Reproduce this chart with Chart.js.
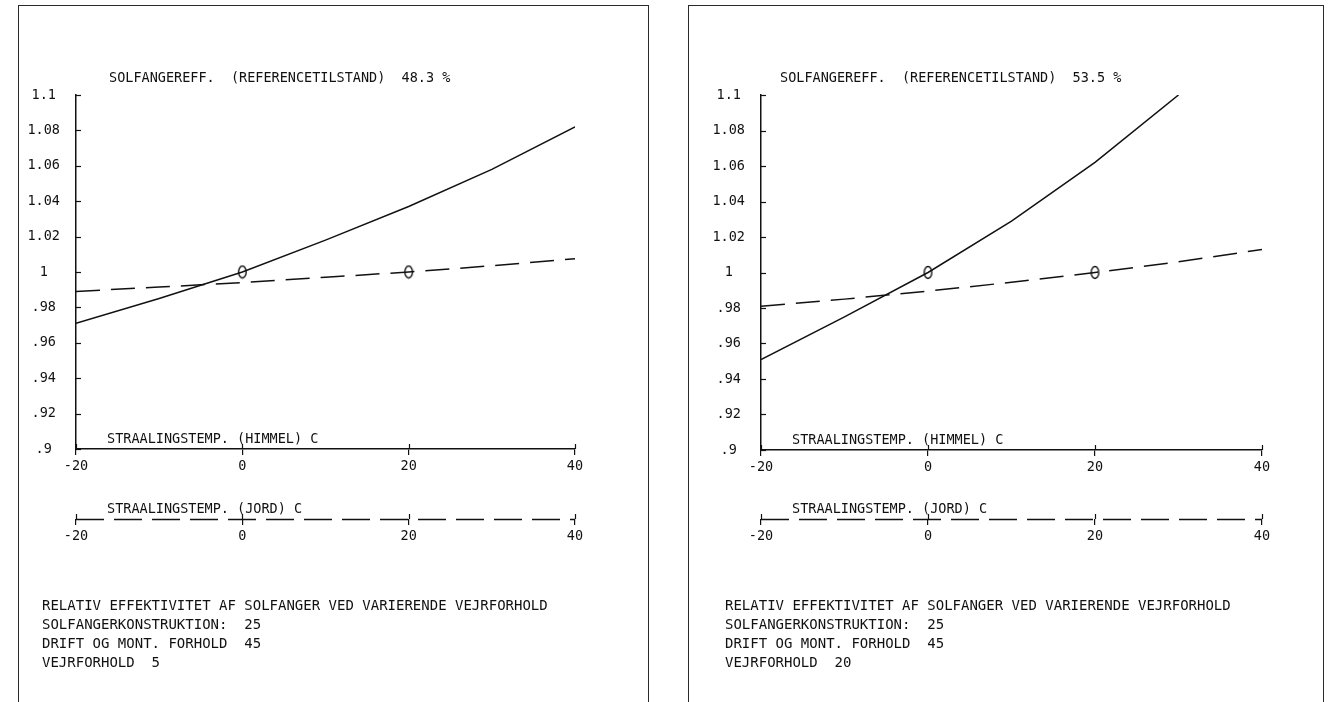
<!DOCTYPE html>
<html><head><meta charset="utf-8">
<script src="https://cdn.jsdelivr.net/npm/chart.js@4.4.1/dist/chart.umd.min.js"></script>
<style>
html,body{margin:0;padding:0;background:#fff;width:1333px;height:702px;overflow:hidden;position:relative;}
.frame{position:absolute;top:5px;height:720px;border:1.5px solid #2a2a2a;border-bottom:none;box-sizing:border-box;}
canvas{position:absolute;top:0;}
</style></head><body>
<div class="frame" id="f1" style="left:18px;width:631px"></div>
<div class="frame" id="f2" style="left:688px;width:636px"></div>
<canvas id="c1" width="668" height="702" style="left:0px"></canvas>
<canvas id="c2" width="665" height="702" style="left:668px"></canvas>
<script>
// ---------- DATA ----------
const xTickLabels = ['-20', '0', '20', '40'];
// Left panel (vejrforhold 5)
const leftHimmelTemps = [-20, -10, 0, 10, 20, 30, 40];
const leftHimmelEff   = [0.971, 0.985, 1.000, 1.018, 1.037, 1.058, 1.082];
const leftJordTemps   = [-20, -10, 0, 10, 20, 30, 40];
const leftJordEff     = [0.989, 0.9915, 0.994, 0.997, 1.000, 1.0035, 1.0075];
// Right panel (vejrforhold 20)
const rightHimmelTemps = [-20, -10, 0, 10, 20, 30];
const rightHimmelEff   = [0.951, 0.975, 1.000, 1.029, 1.062, 1.100];
const rightJordTemps   = [-20, -10, 0, 10, 20, 30, 40];
const rightJordEff     = [0.981, 0.985, 0.9895, 0.9945, 1.000, 1.006, 1.013];
// Reference state markers
const refHimmelTemp = [0];
const refJordTemp   = [20];
const refEff        = [1.0];
// Texts
const leftTitle  = 'SOLFANGEREFF.  (REFERENCETILSTAND)  48.3 %';
const rightTitle = 'SOLFANGEREFF.  (REFERENCETILSTAND)  53.5 %';
const himmelLabel = 'STRAALINGSTEMP. (HIMMEL) C';
const jordLabel   = 'STRAALINGSTEMP. (JORD) C';
const leftNotes  = ['RELATIV EFFEKTIVITET AF SOLFANGER VED VARIERENDE VEJRFORHOLD',
                    'SOLFANGERKONSTRUKTION:  25', 'DRIFT OG MONT. FORHOLD  45', 'VEJRFORHOLD  5'];
const rightNotes = ['RELATIV EFFEKTIVITET AF SOLFANGER VED VARIERENDE VEJRFORHOLD',
                    'SOLFANGERKONSTRUKTION:  25', 'DRIFT OG MONT. FORHOLD  45', 'VEJRFORHOLD  20'];

// ---------- STYLE / LAYOUT ----------
const FONT = "'DejaVu Sans Mono', 'Liberation Mono', monospace";
const INK = '#111111';
const DASH = [24, 11];

function markCanvas() {
  const c = document.createElement('canvas');
  c.width = 11; c.height = 15;
  const g = c.getContext('2d');
  g.strokeStyle = INK; g.lineWidth = 1.4;
  g.beginPath(); g.ellipse(5.5, 7.5, 3.8, 6, 0, 0, Math.PI * 2); g.stroke();
  return c;
}

const panelText = {
  id: 'panelText',
  afterDraw(chart, args, o) {
    const ctx = chart.ctx, ca = chart.chartArea;
    const y = chart.scales.y, x = chart.scales.x, x2 = chart.scales.x2;
    ctx.save();
    ctx.strokeStyle = INK; ctx.lineWidth = 1.2;
    // inner tick marks on the y axis
    y.ticks.forEach(t => {
      const py = Math.round(y.getPixelForValue(t.value)) + 0.5;
      ctx.beginPath(); ctx.moveTo(ca.left, py); ctx.lineTo(ca.left + 5, py); ctx.stroke();
    });
    // upper halves of the x tick marks
    [x, x2].forEach(s => {
      s.ticks.forEach(t => {
        const px = Math.round(s.getPixelForValue(t.value)) + 0.5;
        ctx.beginPath(); ctx.moveTo(px, s.top); ctx.lineTo(px, s.top - 5); ctx.stroke();
      });
    });
    // dashed axis line of the Jord scale
    ctx.lineWidth = 1.5;
    ctx.setLineDash([28, 10]);
    ctx.beginPath();
    ctx.moveTo(x2.getPixelForValue(x2.min), Math.round(x2.top) + 0.5);
    ctx.lineTo(x2.getPixelForValue(x2.max), Math.round(x2.top) + 0.5);
    ctx.stroke();
    ctx.setLineDash([]);
    ctx.fillStyle = INK;
    ctx.textBaseline = 'middle';
    ctx.textAlign = 'left';
    ctx.font = '13.5px ' + FONT;
    ctx.fillText(o.title, o.titleX, o.titleY);
    ctx.fillText(himmelLabel, ca.left + 31, x.top - 10);
    ctx.fillText(jordLabel, x2.left + 31, x2.top - 10);
    ctx.font = '14px ' + FONT;
    o.notes.forEach((s, i) => ctx.fillText(s, o.notesX, o.notesY + i * 19));
    ctx.restore();
  }
};

function makePanel(canvasId, L, hx, hy, jx, jy, title, notes) {
  const H1 = L.jordY - L.chartBottom, H2 = 30, YW = 50;
  const mark = markCanvas();
  const lineDs = (xs, ys, axis, dash) => ({
    data: xs.map((v, i) => ({x: v, y: ys[i]})), xAxisID: axis, yAxisID: 'y',
    borderColor: INK, borderWidth: 1.5, pointRadius: 0, tension: 0, fill: false,
    borderDash: dash || []
  });
  const markDs = (xs, axis) => ({
    data: xs.map((v, i) => ({x: v, y: refEff[i]})), xAxisID: axis, yAxisID: 'y',
    showLine: false, pointStyle: mark, pointRadius: 7, borderColor: INK, backgroundColor: INK
  });
  const xScale = (weight, h, showBorder) => ({
    type: 'linear', position: 'bottom', weight: weight, min: -20, max: 40,
    afterFit: s => { s.height = h; },
    afterBuildTicks: s => { s.ticks = xTickLabels.map(v => ({value: +v})); },
    ticks: { font: {family: FONT, size: 13.5}, color: INK, padding: 3, maxRotation: 0,
             callback: (v) => String(v) },
    grid: { display: true, drawOnChartArea: false, color: INK, lineWidth: 1.2, tickLength: 6 },
    border: { display: showBorder, color: INK, width: 1.5 }
  });
  return new Chart(document.getElementById(canvasId), {
    type: 'line',
    data: { datasets: [
      lineDs(hx, hy, 'x'),
      lineDs(jx, jy, 'x2', DASH),
      markDs(refHimmelTemp, 'x'),
      markDs(refJordTemp, 'x2')
    ]},
    options: {
      responsive: false, animation: false, devicePixelRatio: 1,
      layout: { padding: {
        left: L.chartLeft - L.cx - YW,
        right: L.cw - (L.chartRight - L.cx),
        top: L.chartTop,
        bottom: 702 - L.chartBottom - H1 - H2
      }},
      plugins: {
        legend: {display: false}, tooltip: {enabled: false},
        panelText: { title: title, titleX: L.titleX - L.cx, titleY: L.titleY,
                     notes: notes, notesX: L.notesX - L.cx, notesY: L.notesY }
      },
      scales: {
        x: xScale(0, H1, true),
        x2: xScale(1, H2, false),
        y: {
          type: 'linear', position: 'left', min: 0.9, max: 1.1,
          afterFit: s => { s.width = YW; },
          ticks: { stepSize: 0.02, crossAlign: 'center', padding: 16,
                   font: {family: FONT, size: 13.5}, color: INK,
                   callback: v => String(+(+v).toFixed(2)).replace(/^0\./, '.') },
          grid: { display: false, drawTicks: false },
          border: { display: true, color: INK, width: 1.5 }
        }
      }
    },
    plugins: [panelText]
  });
}

makePanel('c1', {cx: 0, cw: 668, chartLeft: 76, chartRight: 575, chartTop: 95, chartBottom: 449,
                 jordY: 519, titleX: 109, titleY: 78, notesX: 42, notesY: 606},
          leftHimmelTemps, leftHimmelEff, leftJordTemps, leftJordEff, leftTitle, leftNotes);
makePanel('c2', {cx: 668, cw: 665, chartLeft: 761, chartRight: 1262, chartTop: 95, chartBottom: 450,
                 jordY: 519, titleX: 780, titleY: 78, notesX: 725, notesY: 606},
          rightHimmelTemps, rightHimmelEff, rightJordTemps, rightJordEff, rightTitle, rightNotes);
</script>
</body></html>
